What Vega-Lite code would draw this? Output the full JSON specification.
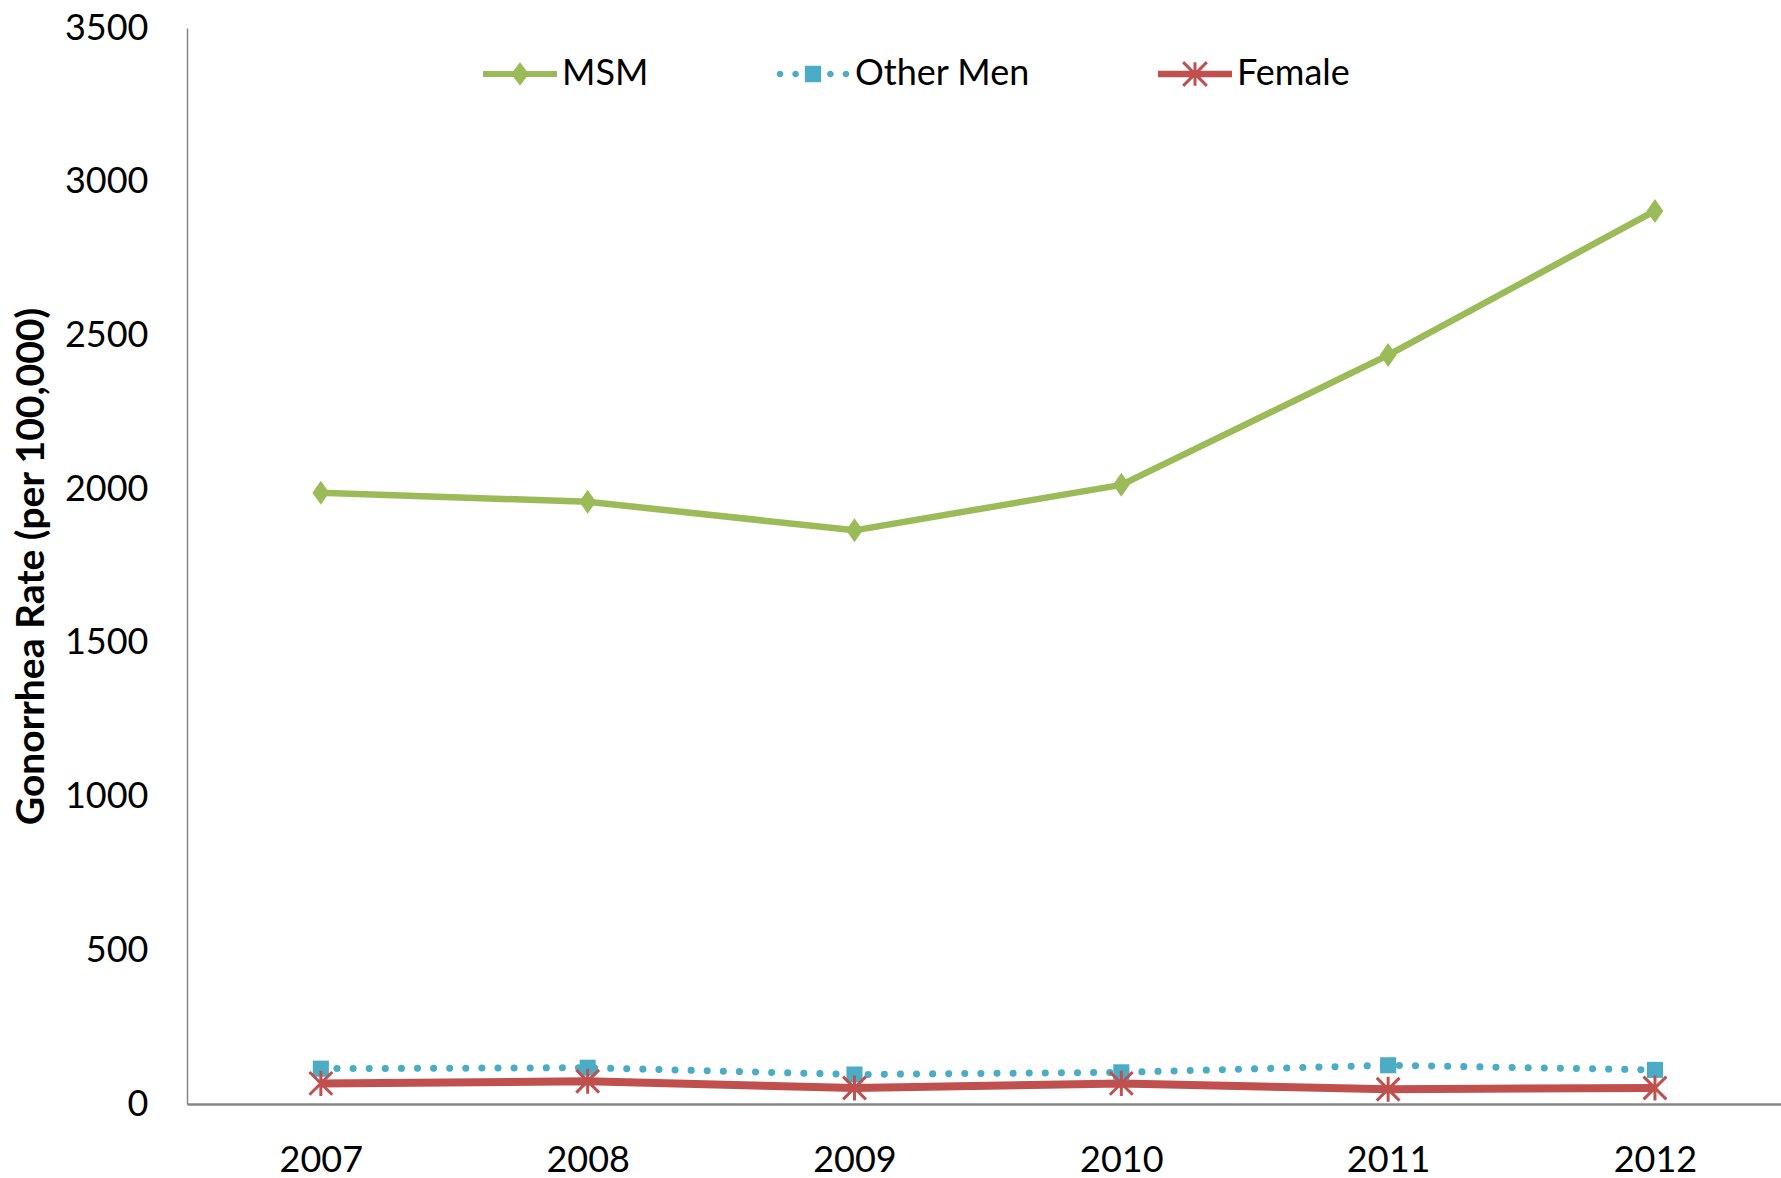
{
  "$schema": "https://vega.github.io/schema/vega-lite/v6.json",
  "autosize": {"type": "none"},
  "padding": {"left": 187, "top": 28, "right": 0, "bottom": 74},
  "width": 1594,
  "height": 1076,
  "background": "white",
  "config": {
    "view": {"stroke": null},
    "font": "Lato",
    "axis": {"labelFont": "Lato", "labelFontSize": 36, "labelColor": "#000000", "domainColor": "#868686", "ticks": false, "grid": false, "titleFont": "Lato", "titleColor": "#000000"}
  },
  "data": {
    "values": [
      {"series": "MSM", "year": "2007", "rate": 1988},
      {"series": "MSM", "year": "2008", "rate": 1959},
      {"series": "MSM", "year": "2009", "rate": 1866},
      {"series": "MSM", "year": "2010", "rate": 2014},
      {"series": "MSM", "year": "2011", "rate": 2436},
      {"series": "MSM", "year": "2012", "rate": 2905},
      {"series": "Other Men", "year": "2007", "rate": 115},
      {"series": "Other Men", "year": "2008", "rate": 118},
      {"series": "Other Men", "year": "2009", "rate": 96},
      {"series": "Other Men", "year": "2010", "rate": 103},
      {"series": "Other Men", "year": "2011", "rate": 126},
      {"series": "Other Men", "year": "2012", "rate": 111},
      {"series": "Female", "year": "2007", "rate": 67},
      {"series": "Female", "year": "2008", "rate": 74},
      {"series": "Female", "year": "2009", "rate": 52},
      {"series": "Female", "year": "2010", "rate": 67},
      {"series": "Female", "year": "2011", "rate": 48},
      {"series": "Female", "year": "2012", "rate": 52}
    ]
  },
  "encoding": {
    "x": {
      "field": "year", "type": "ordinal",
      "scale": {"type": "point", "padding": 0.487, "align": 0.515},
      "axis": {"title": null, "labelAngle": 0, "labelPadding": 39, "domainWidth": 2.5}
    },
    "y": {
      "field": "rate", "type": "quantitative",
      "scale": {"domain": [0, 3500], "nice": false},
      "axis": {"values": [0, 500, 1000, 1500, 2000, 2500, 3000, 3500], "format": "d", "labelPadding": 39, "domainWidth": 1.5,
        "title": "Gonorrhea Rate (per 100,000)", "titleFontSize": 39, "titleFontWeight": "bold", "titleX": -156, "titleBaseline": "middle"}
    },
    "color": {
      "field": "series", "type": "nominal",
      "scale": {"domain": ["MSM", "Other Men", "Female"], "range": ["#9BBB59", "#4BACC6", "#C0504D"]},
      "legend": {
        "title": null, "orient": "none", "direction": "horizontal", "legendX": 296, "legendY": 9,
        "padding": 0, "columnPadding": 127, "labelLimit": 0, "symbolSize": 5476,
        "labelFont": "Lato", "labelFontSize": 36, "labelColor": "#000000", "labelOffset": 5,
        "encode": {
          "symbols": {
            "update": {
              "shape": {"signal": "datum.value === 'MSM' ? 'M-1,-0.08H1V0.08H-1ZM0,-0.32L0.24,0L0,0.32L-0.24,0Z' : datum.value === 'Other Men' ? 'M-0.98,0a0.09,0.09 0 1,1 0.18,0a0.09,0.09 0 1,1 -0.18,0ZM-0.56,0a0.09,0.09 0 1,1 0.18,0a0.09,0.09 0 1,1 -0.18,0ZM0.38,0a0.09,0.09 0 1,1 0.18,0a0.09,0.09 0 1,1 -0.18,0ZM0.8,0a0.09,0.09 0 1,1 0.18,0a0.09,0.09 0 1,1 -0.18,0ZM-0.22,-0.22H0.22V0.22H-0.22Z' : 'M-1,-0.09H1V0.09H-1ZM-0.04,-0.32H0.04V0.32H-0.04ZM-0.292,-0.348L0.348,0.292L0.292,0.348L-0.348,-0.292ZM-0.292,0.348L-0.348,0.292L0.292,-0.348L0.348,-0.292Z'"},
              "fill": {"signal": "datum.value === 'MSM' ? '#9BBB59' : datum.value === 'Other Men' ? '#4BACC6' : '#C0504D'"},
              "stroke": {"value": "transparent"},
              "strokeWidth": {"value": 0},
              "strokeDash": {"value": [1, 0]},
              "opacity": {"value": 1}
            }
          }
        }
      }
    }
  },
  "layer": [
    {
      "transform": [{"filter": "datum.series === 'MSM'"}],
      "mark": {"type": "line", "strokeWidth": 6.5, "strokeJoin": "round"}
    },
    {
      "transform": [{"filter": "datum.series === 'Other Men'"}],
      "mark": {"type": "line", "strokeWidth": 7, "strokeCap": "round", "strokeDash": [0.1, 16]}
    },
    {
      "transform": [{"filter": "datum.series === 'Female'"}],
      "mark": {"type": "line", "strokeWidth": 8, "strokeJoin": "round"}
    },
    {
      "transform": [{"filter": "datum.series === 'MSM'"}],
      "mark": {"type": "point", "filled": true, "opacity": 1, "size": 576, "shape": "M0,-1L0.7,0L0,1L-0.7,0Z"},
      "encoding": {"color": {"value": "#9BBB59"}}
    },
    {
      "transform": [{"filter": "datum.series === 'Other Men'"}],
      "mark": {"type": "point", "filled": true, "opacity": 1, "size": 576, "shape": "M-0.67,-0.67H0.67V0.67H-0.67Z"},
      "encoding": {"color": {"value": "#4BACC6"}}
    },
    {
      "transform": [{"filter": "datum.series === 'Female'"}],
      "mark": {"type": "point", "filled": false, "opacity": 1, "size": 576, "strokeWidth": 3, "shape": "M-0.95,-0.95L0.95,0.95M-0.95,0.95L0.95,-0.95M0,-1.05V1.05"},
      "encoding": {"color": {"value": "#C0504D"}}
    }
  ]
}
